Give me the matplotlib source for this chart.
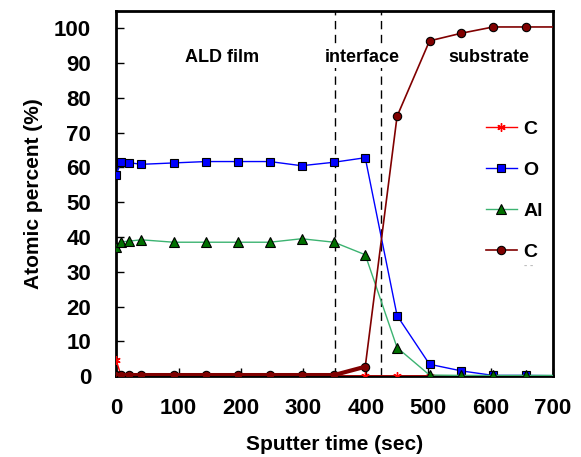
import matplotlib
matplotlib.use("Agg")
import matplotlib.pyplot as plt

plt.rcParams['font.family'] = ['Liberation Sans', 'DejaVu Sans']
plt.rcParams['font.weight'] = 'bold'

# sputter time (sec); the last point sits just past the axis edge
t = [0, 8, 20, 40, 92, 144, 195, 246, 297, 349, 399, 450, 502, 553, 604, 656, 712]
c_surf = [4.6, 0, 0, 0, 0, 0, 0, 0, 0, 0, 0, 0, 0, 0, 0, 0, 0]
o_pct = [57.9, 61.7, 61.4, 60.9, 61.3, 61.7, 61.7, 61.7, 60.5, 61.5, 62.8, 17.4, 3.4, 1.5, 0.2, 0.2, 0.1]
al_pct = [37.2, 38.6, 38.8, 39.2, 38.5, 38.5, 38.5, 38.5, 39.5, 38.5, 34.9, 8.2, 0.3, 0.2, 0.2, 0.2, 0.2]
c_sub = [0.3, 0.3, 0.3, 0.3, 0.3, 0.3, 0.3, 0.3, 0.3, 0.3, 2.7, 74.7, 96.4, 98.6, 100.4, 100.4, 100.4]

boundaries = [351, 425]
regions = [("ALD film", 170), ("interface", 394), ("substrate", 597)]

fig = plt.figure(figsize=(5.81, 4.57), dpi=100)
ax = fig.add_axes([0.2, 0.177, 0.752, 0.799])

ax.plot(t, c_surf, color='#FF0000', lw=1, marker=(6, 2, 0), ms=6, mew=1, label='C', zorder=3)
ax.plot(t, o_pct, color='#0000FF', lw=1, marker='s', ms=6, mfc='#0000FF', mec='black', mew=0.8, label='O', zorder=4)
ax.plot(t, al_pct, color='#3CB371', lw=1, marker='^', ms=7, mfc='#007000', mec='black', mew=0.8, label='Al', zorder=4)
ax.plot(t, c_sub, color='#800000', lw=1.2, marker='o', ms=6, mfc='#800000', mec='black', mew=0.8, label='C', zorder=5)
ax.plot(t[:11], c_sub[:11], color='#800000', lw=3, zorder=5)

for b in boundaries:
    ax.axvline(b, color='black', lw=1, ls=(0, (6, 4)), zorder=2)

for name, xpos in regions:
    ax.text(xpos, 91.5, name, ha='center', va='center', fontsize=13, fontweight='bold',
            bbox=dict(facecolor='white', edgecolor='none', pad=1), zorder=6)

ax.set_xlim(0, 700)
ax.set_ylim(0, 105)
ax.set_xticks(range(0, 701, 100))
ax.set_yticks(range(0, 101, 10))
ax.tick_params(direction='in', length=6, width=1, labelsize=16)
ax.tick_params(axis='x', pad=16)
ax.tick_params(axis='y', pad=18)
for lbl in ax.get_xticklabels() + ax.get_yticklabels():
    lbl.set_fontweight('bold')
for s in ax.spines.values():
    s.set_linewidth(2)

ax.set_xlabel('Sputter time (sec)', fontsize=15, fontweight='bold', labelpad=11)
ax.set_ylabel('Atomic percent (%)', fontsize=15, fontweight='bold', labelpad=8)

leg = ax.legend(loc='upper left', bbox_to_anchor=(0.828, 0.722), frameon=False, fontsize=14,
                handlelength=1.6, labelspacing=1.2, borderaxespad=0, handletextpad=0.35)
for txt in leg.get_texts():
    txt.set_fontweight('bold')
ax.text(0.943, 0.295, '- -', transform=ax.transAxes, color='#BBBBBB', fontsize=7, ha='center')

fig.savefig('out.png', dpi=100)
